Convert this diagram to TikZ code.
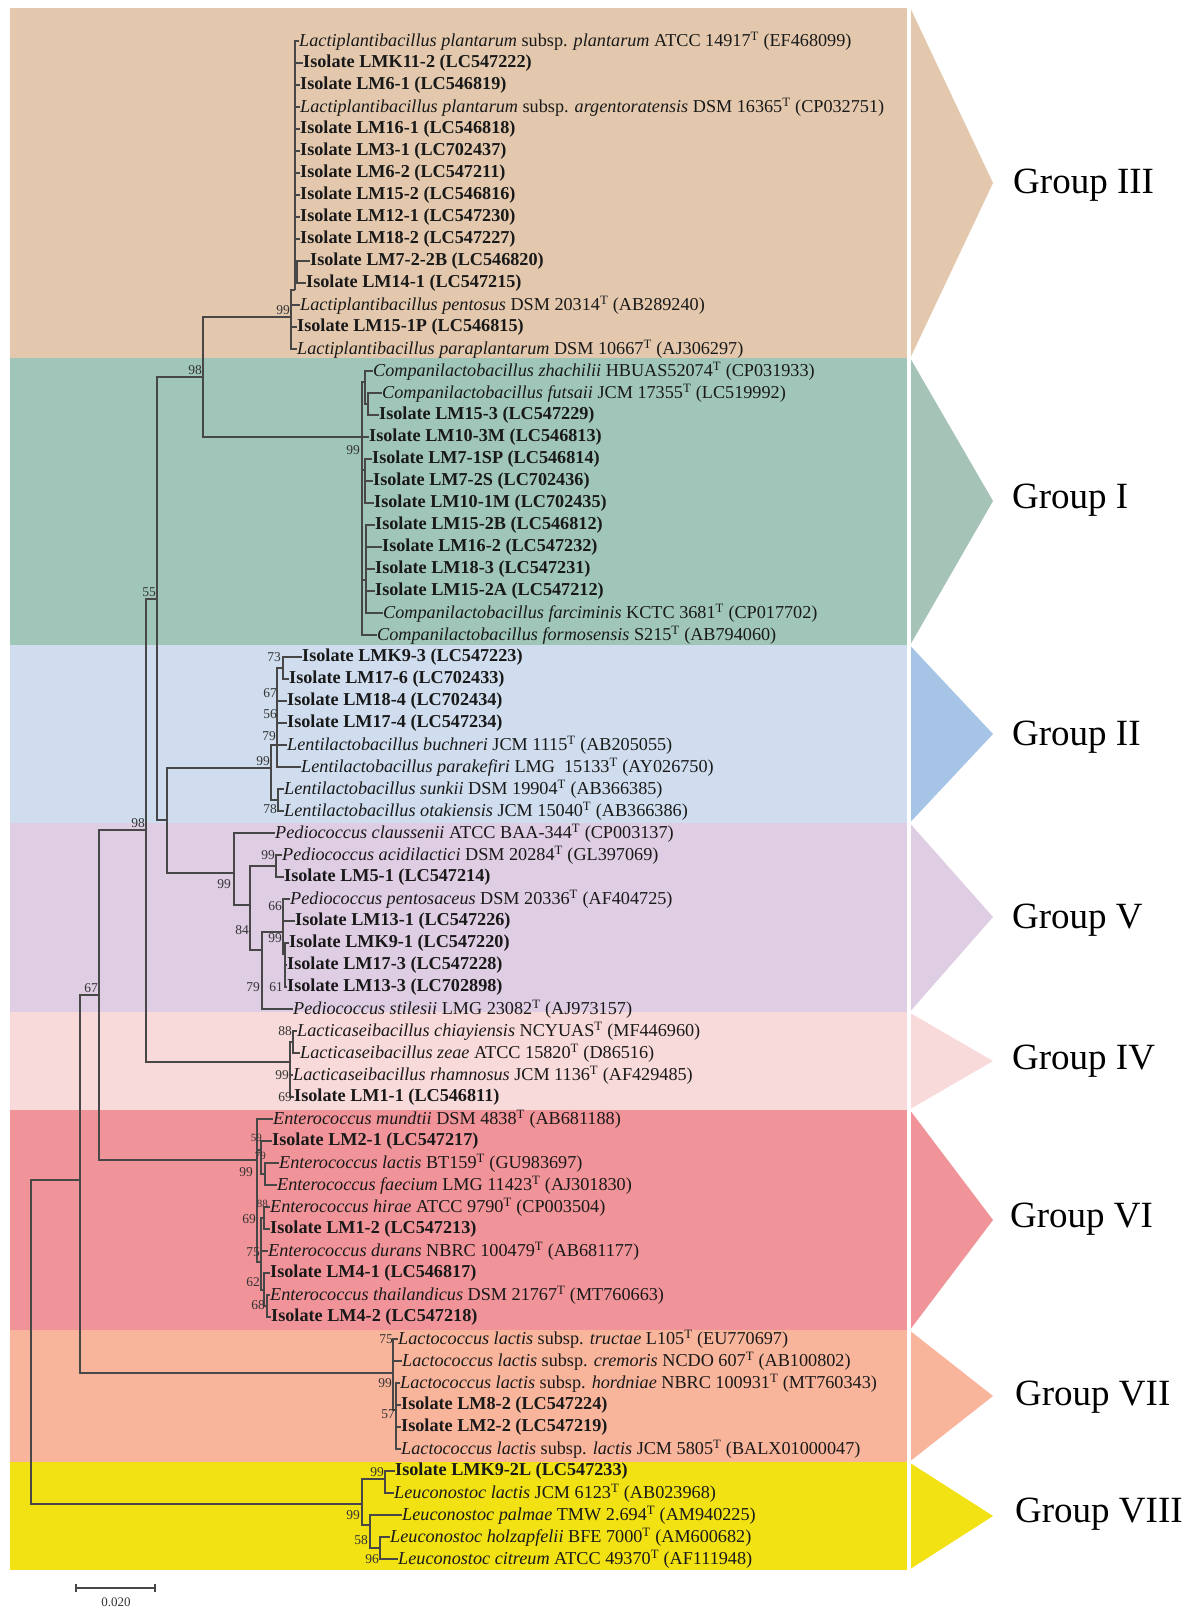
\documentclass[tikz,border=0pt]{standalone}
\usepackage{fontspec}
\setmainfont{Liberation Serif}
\definecolor{cIII}{HTML}{E3C8AD}
\definecolor{cI}{HTML}{A0C6B9}
\definecolor{cIt}{HTML}{A5C4B7}
\definecolor{cII}{HTML}{CFDDEE}
\definecolor{cIIt}{HTML}{A6C5E6}
\definecolor{cV}{HTML}{DFCDE3}
\definecolor{cIV}{HTML}{F9DADB}
\definecolor{cVI}{HTML}{F19499}
\definecolor{cVII}{HTML}{F9B59C}
\definecolor{cVIII}{HTML}{F2E213}
\newcommand\supT{\textsuperscript{T}}
\newcommand\iso[1]{\textbf{Isolate #1}}
\newcommand\leafat[3]{\node[leaf] (r#1) at (#2,{41+22*(#1-1)}) {#3};}
\newcommand\brn[2]{\draw[br] (#1) |- (#2);}
\tikzset{
 leaf/.style={anchor=west, inner sep=0pt, text=black!90, font=\fontsize{18.2}{20}\selectfont},
 br/.style={draw=black!72, line width=1.1pt},
 bs/.style={inner sep=0pt, text=black!80, font=\fontsize{13.5}{14}\selectfont},
 grp/.style={anchor=west, inner sep=0pt, text=black, font=\fontsize{37}{40}\selectfont},
}
\begin{document}
\begin{tikzpicture}[x=1pt,y=-1pt]
\useasboundingbox (0,0) rectangle (1192,1608);
\fill[white] (0,0) rectangle (1192,1608);
% bands
\fill[cIII] (10,8) rectangle (907,358);
\fill[cI] (10,358) rectangle (907,645);
\fill[cII] (10,645) rectangle (907,823);
\fill[cV] (10,823) rectangle (907,1012);
\fill[cIV] (10,1012) rectangle (907,1110);
\fill[cVI] (10,1110) rectangle (907,1330);
\fill[cVII] (10,1330) rectangle (907,1462);
\fill[cVIII] (10,1462) rectangle (907,1570);
% arrows
\fill[cIII] (911,9.5) -- (993,183) -- (911,356.5) -- cycle;
\fill[cIt] (911,359.5) -- (993,501) -- (911,643.5) -- cycle;
\fill[cIIt] (911,646.5) -- (993,734) -- (911,821.5) -- cycle;
\fill[cV] (911,824.5) -- (993,917) -- (911,1010.5) -- cycle;
\fill[cIV] (911,1013.5) -- (993,1061) -- (911,1108.5) -- cycle;
\fill[cVI] (911,1111.5) -- (993,1220) -- (911,1328.5) -- cycle;
\fill[cVII] (911,1331.5) -- (993,1396) -- (911,1460.5) -- cycle;
\fill[cVIII] (911,1463.5) -- (993,1516) -- (911,1568.5) -- cycle;
\node[grp] (g3) at (1013,185) {Group III};
\node[grp] (g1) at (1012,500) {Group I};
\node[grp] (g2) at (1012,737) {Group II};
\node[grp] (g5) at (1012,920) {Group V};
\node[grp] (g4) at (1012,1061) {Group IV};
\node[grp] (g6) at (1010,1219) {Group VI};
\node[grp] (g7) at (1015,1397) {Group VII};
\node[grp] (g8) at (1015,1514) {Group VIII};
% leaves
\leafat{1}{299}{\textit{Lactiplantibacillus plantarum} subsp. \textit{plantarum} ATCC 14917\supT{} (EF468099)}
\leafat{2}{303}{\iso{LMK11-2 (LC547222)}}
\leafat{3}{300}{\iso{LM6-1 (LC546819)}}
\leafat{4}{300}{\textit{Lactiplantibacillus plantarum} subsp. \textit{argentoratensis} DSM 16365\supT{} (CP032751)}
\leafat{5}{300}{\iso{LM16-1 (LC546818)}}
\leafat{6}{300}{\iso{LM3-1 (LC702437)}}
\leafat{7}{300}{\iso{LM6-2 (LC547211)}}
\leafat{8}{300}{\iso{LM15-2 (LC546816)}}
\leafat{9}{300}{\iso{LM12-1 (LC547230)}}
\leafat{10}{300}{\iso{LM18-2 (LC547227)}}
\leafat{11}{310}{\iso{LM7-2-2B (LC546820)}}
\leafat{12}{306}{\iso{LM14-1 (LC547215)}}
\leafat{13}{300}{\textit{Lactiplantibacillus pentosus} DSM 20314\supT{} (AB289240)}
\leafat{14}{297}{\iso{LM15-1P (LC546815)}}
\leafat{15}{297}{\textit{Lactiplantibacillus paraplantarum} DSM 10667\supT{} (AJ306297)}
\leafat{16}{373}{\textit{Companilactobacillus zhachilii} HBUAS52074\supT{} (CP031933)}
\leafat{17}{382}{\textit{Companilactobacillus futsaii} JCM 17355\supT{} (LC519992)}
\leafat{18}{379}{\iso{LM15-3 (LC547229)}}
\leafat{19}{369}{\iso{LM10-3M (LC546813)}}
\leafat{20}{372}{\iso{LM7-1SP (LC546814)}}
\leafat{21}{373}{\iso{LM7-2S (LC702436)}}
\leafat{22}{374}{\iso{LM10-1M (LC702435)}}
\leafat{23}{375}{\iso{LM15-2B (LC546812)}}
\leafat{24}{382}{\iso{LM16-2 (LC547232)}}
\leafat{25}{375}{\iso{LM18-3 (LC547231)}}
\leafat{26}{375}{\iso{LM15-2A (LC547212)}}
\leafat{27}{383}{\textit{Companilactobacillus farciminis} KCTC 3681\supT{} (CP017702)}
\leafat{28}{377}{\textit{Companilactobacillus formosensis} S215\supT{} (AB794060)}
\leafat{29}{302}{\iso{LMK9-3 (LC547223)}}
\leafat{30}{289}{\iso{LM17-6 (LC702433)}}
\leafat{31}{287}{\iso{LM18-4 (LC702434)}}
\leafat{32}{287}{\iso{LM17-4 (LC547234)}}
\leafat{33}{287}{\textit{Lentilactobacillus buchneri} JCM 1115\supT{} (AB205055)}
\leafat{34}{301}{\textit{Lentilactobacillus parakefiri} LMG~ 15133\supT{} (AY026750)}
\leafat{35}{284}{\textit{Lentilactobacillus sunkii} DSM 19904\supT{} (AB366385)}
\leafat{36}{284}{\textit{Lentilactobacillus otakiensis} JCM 15040\supT{} (AB366386)}
\leafat{37}{275}{\textit{Pediococcus claussenii} ATCC BAA-344\supT{} (CP003137)}
\leafat{38}{282}{\textit{Pediococcus acidilactici} DSM 20284\supT{} (GL397069)}
\leafat{39}{284}{\iso{LM5-1 (LC547214)}}
\leafat{40}{290}{\textit{Pediococcus pentosaceus} DSM 20336\supT{} (AF404725)}
\leafat{41}{295}{\iso{LM13-1 (LC547226)}}
\leafat{42}{289}{\iso{LMK9-1 (LC547220)}}
\leafat{43}{287}{\iso{LM17-3 (LC547228)}}
\leafat{44}{287}{\iso{LM13-3 (LC702898)}}
\leafat{45}{293}{\textit{Pediococcus stilesii} LMG 23082\supT{} (AJ973157)}
\leafat{46}{297}{\textit{Lacticaseibacillus chiayiensis} NCYUAS\supT{} (MF446960)}
\leafat{47}{300}{\textit{Lacticaseibacillus zeae} ATCC 15820\supT{} (D86516)}
\leafat{48}{293}{\textit{Lacticaseibacillus rhamnosus} JCM 1136\supT{} (AF429485)}
\leafat{49}{294}{\iso{LM1-1 (LC546811)}}
\leafat{50}{273}{\textit{Enterococcus mundtii} DSM 4838\supT{} (AB681188)}
\leafat{51}{272}{\iso{LM2-1 (LC547217)}}
\leafat{52}{279}{\textit{Enterococcus lactis} BT159\supT{} (GU983697)}
\leafat{53}{277}{\textit{Enterococcus faecium} LMG 11423\supT{} (AJ301830)}
\leafat{54}{270}{\textit{Enterococcus hirae} ATCC 9790\supT{} (CP003504)}
\leafat{55}{270}{\iso{LM1-2 (LC547213)}}
\leafat{56}{268}{\textit{Enterococcus durans} NBRC 100479\supT{} (AB681177)}
\leafat{57}{270}{\iso{LM4-1 (LC546817)}}
\leafat{58}{270}{\textit{Enterococcus thailandicus} DSM 21767\supT{} (MT760663)}
\leafat{59}{271}{\iso{LM4-2 (LC547218)}}
\leafat{60}{398}{\textit{Lactococcus lactis} subsp. \textit{tructae} L105\supT{} (EU770697)}
\leafat{61}{402}{\textit{Lactococcus lactis} subsp. \textit{cremoris} NCDO 607\supT{} (AB100802)}
\leafat{62}{400}{\textit{Lactococcus lactis} subsp. \textit{hordniae} NBRC 100931\supT{} (MT760343)}
\leafat{63}{401}{\iso{LM8-2 (LC547224)}}
\leafat{64}{401}{\iso{LM2-2 (LC547219)}}
\leafat{65}{401}{\textit{Lactococcus lactis} subsp. \textit{lactis} JCM 5805\supT{} (BALX01000047)}
\leafat{66}{395}{\iso{LMK9-2L (LC547233)}}
\leafat{67}{394}{\textit{Leuconostoc lactis} JCM 6123\supT{} (AB023968)}
\leafat{68}{402}{\textit{Leuconostoc palmae} TMW 2.694\supT{} (AM940225)}
\leafat{69}{390}{\textit{Leuconostoc holzapfelii} BFE 7000\supT{} (AM600682)}
\leafat{70}{398}{\textit{Leuconostoc citreum} ATCC 49370\supT{} (AF111948)}
% internal nodes
\coordinate (root) at (31,1342);
\coordinate (nA) at (80,1180);
\coordinate (nB) at (99,995);
\coordinate (nC) at (146,830);
\coordinate (nD) at (157,599);
\coordinate (nE) at (167,820);
\coordinate (nF) at (203,377);
\coordinate (nIII) at (291,317);
\coordinate (nI) at (362,437);
\coordinate (nII) at (271,768);
\coordinate (nV) at (234,873);
\coordinate (nIV) at (290,1062);
\coordinate (nVI) at (257,1160);
\coordinate (nVII) at (393,1373);
\coordinate (nVIII) at (362,1504);
% backbone
\brn{root}{nA} \brn{root}{nVIII}
\brn{nA}{nB} \brn{nA}{nVII}
\brn{nB}{nC} \brn{nB}{nVI}
\brn{nC}{nD} \brn{nC}{nIV}
\brn{nD}{nF} \brn{nD}{nE}
\brn{nE}{nII} \brn{nE}{nV}
\brn{nF}{nIII} \brn{nF}{nI}
% Group III
\coordinate (p3) at (295,290);
\coordinate (q3) at (297,272);
\brn{nIII}{p3} \brn{p3}{q3}
\foreach \c in {1,...,10} {\draw[br] (p3) |- (r\c.west);}
\draw[br, line width=2.2pt] (p3 |- r6.west) -- (p3 |- r10.west);
\brn{q3}{r11.west} \brn{q3}{r12.west}
\brn{nIII}{r13.west} \brn{nIII}{r14.west} \brn{nIII}{r15.west}
% Group I
\coordinate (s1) at (365,382);
\coordinate (s2) at (368,404);
\coordinate (s3) at (365,470);
\coordinate (s4) at (366,580);
\brn{nI}{s1} \brn{s1}{r16.west} \brn{s1}{s2}
\brn{s2}{r17.west} \brn{s2}{r18.west}
\brn{nI}{r19.west}
\brn{nI}{s3} \brn{s3}{r20.west} \brn{s3}{r21.west} \brn{s3}{r22.west}
\draw[br, line width=2pt] (s3 |- r20.west) -- (s3 |- r22.west);
\brn{nI}{s4}
\foreach \c in {23,...,27} {\draw[br] (s4) |- (r\c.west);}
\draw[br, line width=2pt] (s4 |- r24.west) -- (s4 |- r26.west);
\brn{nI}{r28.west}
% Group II
\coordinate (a2) at (277,745);
\coordinate (b2) at (283,668);
\coordinate (c2) at (278,800);
\brn{nII}{a2} \brn{a2}{b2}
\brn{b2}{r29.west} \brn{b2}{r30.west}
\foreach \c in {31,...,34} {\draw[br] (a2) |- (r\c.west);}
\brn{nII}{c2} \brn{c2}{r35.west} \brn{c2}{r36.west}
% Group V
\coordinate (a5) at (250,905);
\coordinate (b5) at (276,866);
\coordinate (c5) at (262,950);
\coordinate (d5) at (283,932);
\coordinate (e5) at (285,954);
\brn{nV}{r37.west} \brn{nV}{a5}
\brn{a5}{b5} \brn{b5}{r38.west} \brn{b5}{r39.west}
\brn{a5}{c5} \brn{c5}{d5} \brn{c5}{r45.west}
\brn{d5}{r40.west} \brn{d5}{r41.west} \brn{d5}{e5}
\brn{e5}{r42.west} \brn{e5}{r43.west} \brn{e5}{r44.west}
% Group IV
\coordinate (a4) at (293,1042);
\brn{nIV}{a4} \brn{a4}{r46.west} \brn{a4}{r47.west}
\brn{nIV}{r48.west} \brn{nIV}{r49.west}
% Group VI
\coordinate (a6) at (261,1150);
\coordinate (b6) at (265,1174);
\coordinate (c6) at (261,1262);
\coordinate (d6) at (264,1218);
\coordinate (e6) at (264,1290);
\coordinate (f6) at (267,1306);
\brn{nVI}{r50.west} \brn{nVI}{a6}
\brn{a6}{r51.west} \brn{a6}{b6}
\brn{b6}{r52.west} \brn{b6}{r53.west}
\brn{nVI}{c6} \brn{c6}{d6} \brn{d6}{r54.west} \brn{d6}{r55.west}
\brn{c6}{r56.west} \brn{c6}{e6} \brn{e6}{r57.west} \brn{e6}{f6}
\brn{f6}{r58.west} \brn{f6}{r59.west}
% Group VII
\coordinate (a7) at (396,1410);
\brn{nVII}{r60.west} \brn{nVII}{r61.west} \brn{nVII}{a7}
\foreach \c in {62,...,65} {\draw[br] (a7) |- (r\c.west);}
% Group VIII
\coordinate (a8) at (385,1479);
\coordinate (b8) at (370,1525);
\coordinate (c8) at (380,1548);
\brn{nVIII}{a8} \brn{a8}{r66.west} \brn{a8}{r67.west}
\brn{nVIII}{b8} \brn{b8}{r68.west} \brn{b8}{c8}
\brn{c8}{r69.west} \brn{c8}{r70.west}
% bootstrap values
\node[bs, anchor=south east] (bF) at (202,375) {98};
\node[bs, anchor=south east] (bD) at (156,597) {55};
\node[bs, anchor=south east] (bC) at (145,828) {98};
\node[bs, anchor=south east] (bB) at (98,993) {67};
\node[bs, anchor=south east] (bIII) at (290,315) {99};
\node[bs, anchor=east] (bI) at (360,450) {99};
\node[bs, anchor=south east] (bII) at (270,766) {99};
\node[bs, anchor=east] (b73) at (281,657) {73};
\node[bs, anchor=east] (b67) at (277,693) {67};
\node[bs, anchor=east] (b56) at (277,714) {56};
\node[bs, anchor=east] (b79) at (276,736) {79};
\node[bs, anchor=east] (b78) at (277,809) {78};
\node[bs, anchor=east] (bV) at (231,884) {99};
\node[bs, anchor=east] (b5a) at (275,855) {99};
\node[bs, anchor=east] (b84) at (249,930) {84};
\node[bs, anchor=east] (b66) at (282,906) {66};
\node[bs, anchor=east] (b5b) at (282,938) {99};
\node[bs, anchor=east] (b79v) at (260,987) {79};
\node[bs, anchor=east] (b61) at (283,987) {61};
\node[bs, anchor=east] (b88) at (292,1031) {88};
\node[bs, anchor=east] (bIV) at (289,1075) {99};
\node[bs, anchor=east] (b69) at (292,1097) {69};
\node[bs, anchor=east, font=\fontsize{11}{12}\selectfont] (b59) at (262,1138) {59};
\node[bs, anchor=east, font=\fontsize{11}{12}\selectfont] (b79e) at (266,1156) {79};
\node[bs, anchor=east] (bVI) at (253,1172) {99};
\node[bs, anchor=east, font=\fontsize{11}{12}\selectfont] (b88e) at (268,1204) {88};
\node[bs, anchor=east] (b69e) at (256,1219) {69};
\node[bs, anchor=east] (b75e) at (260,1252) {75};
\node[bs, anchor=east] (b62) at (260,1282) {62};
\node[bs, anchor=east] (b68) at (265,1305) {68};
\node[bs, anchor=east] (b75) at (393,1339) {75};
\node[bs, anchor=east] (bVIIa) at (392,1383) {99};
\node[bs, anchor=east] (b57) at (395,1414) {57};
\node[bs, anchor=east] (bVIII) at (360,1515) {99};
\node[bs, anchor=east] (b8a) at (384,1472) {99};
\node[bs, anchor=east] (b58) at (368,1540) {58};
\node[bs, anchor=east] (b96) at (379,1559) {96};
% scale bar
\coordinate (sb1) at (76,1588);
\coordinate (sb2) at (155,1588);
\draw[br] (sb1) -- (sb2);
\draw[br] ([yshift=-4pt]sb1) -- ([yshift=4pt]sb1);
\draw[br] ([yshift=-4pt]sb2) -- ([yshift=4pt]sb2);
\node[bs, font=\fontsize{13}{14}\selectfont] (sbl) at (116,1602) {0.020};
\end{tikzpicture}
\end{document}
